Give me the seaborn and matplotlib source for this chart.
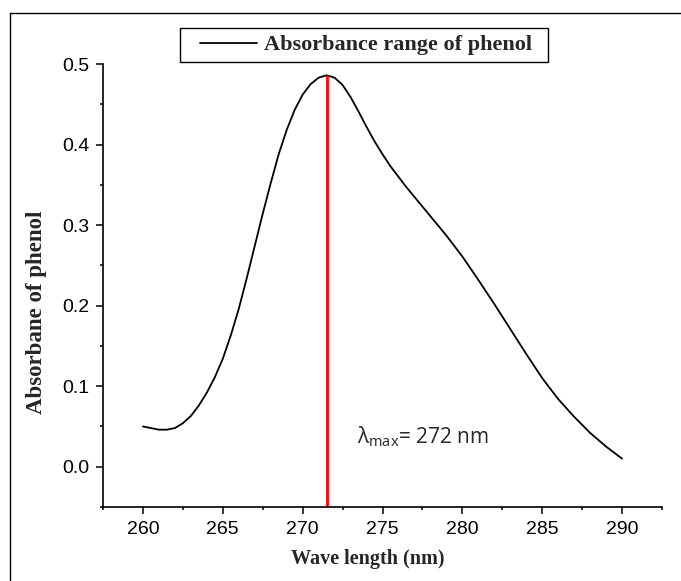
import numpy as np
import pandas as pd
import matplotlib
matplotlib.use("Agg")
import matplotlib.pyplot as plt
from matplotlib.lines import Line2D
from matplotlib.patches import Rectangle
import seaborn as sns

# Data
wavelength = [260, 260.5, 261, 261.5, 262, 262.5, 263, 263.5, 264, 264.5, 265,
              265.5, 266, 266.5, 267, 267.5, 268, 268.5, 269, 269.5, 270, 270.5,
              271, 271.5, 272, 272.5, 273, 273.5, 274, 274.5, 275, 275.5, 276,
              276.5, 277, 278, 279, 280, 281, 282, 283, 284, 285, 286, 287, 288,
              289, 290]
absorbance = [0.050, 0.048, 0.046, 0.046, 0.048, 0.054, 0.063, 0.076, 0.092, 0.111, 0.134,
              0.163, 0.196, 0.234, 0.274, 0.314, 0.352, 0.388, 0.418, 0.443, 0.462, 0.475,
              0.483, 0.486, 0.483, 0.474, 0.459, 0.441, 0.422, 0.404, 0.388, 0.373, 0.360,
              0.347, 0.335, 0.311, 0.287, 0.261, 0.232, 0.202, 0.171, 0.140, 0.110, 0.084,
              0.062, 0.042, 0.025, 0.010]
lambda_max_x = 271.5
lambda_max_y = 0.486
x_ticks = [260, 265, 270, 275, 280, 285, 290]
y_ticks = [0.0, 0.1, 0.2, 0.3, 0.4, 0.5]
series_label = "Absorbance range of phenol"

df = pd.DataFrame({"wl": wavelength, "abs": absorbance})

sns.set_theme(style="ticks")
plt.rcParams["font.family"] = ["Liberation Sans", "DejaVu Sans"]

fig = plt.figure(figsize=(6.81, 5.81), dpi=100)
ax = fig.add_axes([103/681, 1-507/581, (662-103)/681, (507-64)/581])

sns.lineplot(data=df, x="wl", y="abs", ax=ax, color="black", linewidth=1.3,
             label=series_label)
ax.plot([lambda_max_x, lambda_max_x], [-0.05, lambda_max_y], color="#ff0000",
        linewidth=2.0, solid_capstyle="butt")

ax.set_xlim(257.5, 292.5)
ax.set_ylim(-0.05, 0.5)
ax.set_xticks(x_ticks)
ax.set_xticks(np.arange(257.5, 293, 2.5), minor=True)
ax.set_yticks(y_ticks)
ax.set_yticks(np.arange(-0.05, 0.51, 0.05), minor=True)
ax.set_xticklabels([str(t) for t in x_ticks])
ax.set_yticklabels([f"{t:.1f}" for t in y_ticks])
ax.tick_params(axis="both", which="major", direction="out", length=5, width=1.1,
               labelsize=14, color="black", labelcolor="black", pad=5)
ax.tick_params(axis="both", which="minor", direction="out", length=2.5, width=1.1,
               color="black")
for s in ["top", "right"]:
    ax.spines[s].set_visible(False)
for s in ["left", "bottom"]:
    ax.spines[s].set_linewidth(1.2)
    ax.spines[s].set_color("black")

ax.set_xlabel("Wave length (nm)", fontsize=14.5, fontweight="bold",
              family=["Liberation Serif"])
ax.set_ylabel("Absorbane of phenol", fontsize=16.5, fontweight="bold",
              family=["Liberation Serif"])
ax.xaxis.set_label_coords((368-103)/559, (507-549)/443)
ax.yaxis.set_label_coords((47-103)/559, 0.44)

ax.text(273.4, 0.037, r"$\mathregular{\lambda_{max}}$= 272 nm", fontsize=15,
        family=["Open Sans", "DejaVu Sans"], va="center", ha="left")

leg = ax.legend(loc="center left", bbox_to_anchor=(200/681, 1-45/581),
                bbox_transform=fig.transFigure, frameon=False, handlelength=2.55,
                prop={"family": "Liberation Serif", "weight": "bold", "size": 16},
                borderpad=0, borderaxespad=0, handletextpad=0.35)
fig.add_artist(Rectangle((180/681, 1-62/581), (548-180)/681, (62-28)/581,
                         transform=fig.transFigure, fill=False, edgecolor="black",
                         linewidth=1.0))

# figure border (left and top visible)
fig.add_artist(Line2D([10/681, 10/681], [0, 1-13/581], transform=fig.transFigure,
                      color="black", linewidth=1.0))
fig.add_artist(Line2D([10/681, 1], [1-13/581, 1-13/581], transform=fig.transFigure,
                      color="black", linewidth=1.0))

fig.savefig("out.png", dpi=100)
